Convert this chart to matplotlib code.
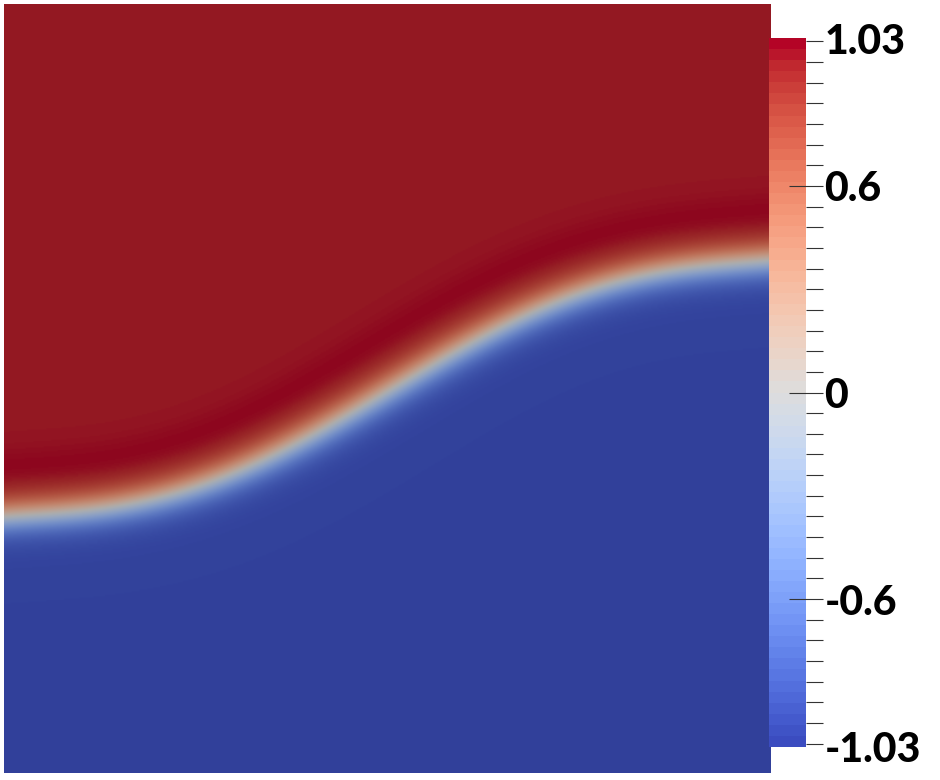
import numpy as np
import matplotlib
matplotlib.use("Agg")
import matplotlib.pyplot as plt
from matplotlib.colors import ListedColormap, Normalize

plt.rcParams['axes.unicode_minus'] = False

# interface position (phase = 0), domain units [0, 1]
interface_x = [0.0, 0.108, 0.220, 0.334, 0.434, 0.546, 0.660, 0.777, 0.894, 1.0]
interface_y = [0.333, 0.342, 0.364, 0.401, 0.463, 0.521, 0.586, 0.632, 0.658, 0.667]

# phase values
phase_red = 0.98
phase_blue = -0.99
phase_peak = 1.03
interface_width = 0.025
band_offset = 0.060
band_width = 0.028

vmin, vmax = -1.03, 1.03
bar_ticks = [1.03, 0.6, 0, -0.6, -1.03]
bar_labels = ["1.03", "0.6", "0", "-0.6", "-1.03"]
minor_ticks = np.arange(-17, 18) * 0.06

# field
n = 600
xs = np.linspace(0, 1, n)
X, Y = np.meshgrid(xs, xs)
coef = np.polyfit(interface_x, interface_y, 5)
curve = np.polyval(coef, X)
slope = np.polyval(np.polyder(coef), X)
d = (Y - curve) / np.sqrt(1 + slope ** 2)

top = np.where(d > 0, phase_red, -phase_blue)
phi = top * np.tanh(d / interface_width)
bump = (phase_peak - phase_red) * np.exp(-((d - band_offset) / band_width) ** 2)
phi = phi + np.where(d > 0, bump, 0)

# shaded version of cool-to-warm for the surface (lighting darkens it)
base = plt.get_cmap('coolwarm')
shaded = base(np.linspace(0, 1, 256))
shaded[:, :3] *= 0.78
field_cmap = ListedColormap(shaded)

fig = plt.figure(figsize=(9.4, 7.8), dpi=100)
ax = fig.add_axes([4 / 940, 7 / 780, 767 / 940, 769 / 780])
ax.imshow(phi, origin='lower', extent=[0, 1, 0, 1], cmap=field_cmap,
          vmin=vmin, vmax=vmax, interpolation='bilinear', aspect='auto')
ax.set_axis_off()

# colour bar
cax = fig.add_axes([769 / 940, 33 / 780, 37 / 940, 709 / 780])
sm = plt.cm.ScalarMappable(norm=Normalize(vmin, vmax), cmap=plt.get_cmap('coolwarm', 64))
cb = fig.colorbar(sm, cax=cax)
cb.outline.set_visible(False)
cb.set_ticks(bar_ticks)
cb.set_ticklabels(bar_labels)
cax.set_yticks(minor_ticks, minor=True)
cax.tick_params(which='major', direction='inout', length=24.5, width=0.8,
                color='#333333', pad=1, labelsize=29.5)
cax.tick_params(which='minor', direction='out', length=12.5, width=0.8, color='#333333')
# end labels carry no tick of their own
for i in (0, len(bar_ticks) - 1):
    tk = cax.yaxis.get_major_ticks()[i]
    tk.tick1line.set_visible(False)
    tk.tick2line.set_visible(False)
for t in cax.get_yticklabels():
    t.set_fontfamily(['Lato', 'DejaVu Sans'])
    t.set_fontweight('black')

fig.savefig("out.png", dpi=100, facecolor='white')
